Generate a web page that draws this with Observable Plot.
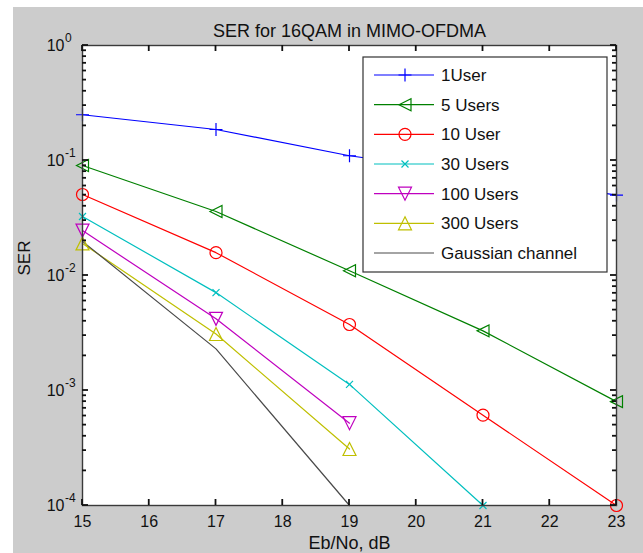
<!DOCTYPE html>
<html>
<head>
<meta charset="utf-8">
<script src="https://cdn.jsdelivr.net/npm/d3@7"></script>
<script src="https://cdn.jsdelivr.net/npm/@observablehq/plot@0.6"></script>
<style>
  html, body { margin: 0; padding: 0; background: #ffffff; }
  #wrap { position: relative; width: 643px; height: 553px; overflow: hidden; }
  #bg { position: absolute; left: 13px; top: 7px; right: 0; bottom: 0; background: #cccccc; }
  #chart { position: absolute; left: 0; top: 0; }
</style>
</head>
<body>
<div id="wrap"><div id="bg"></div><div id="chart"></div></div>
<script>
// ---- data ----
const snr = [15, 17, 19, 21, 23];
const user1    = [0.25, 0.186, 0.11, 0.076, 0.05];
const users5   = [0.0905, 0.036, 0.011, 0.0033, 0.0008];
const user10   = [0.0506, 0.0158, 0.00375, 0.00061, 0.0001];
const users30  = [0.0326, 0.0071, 0.00113, 0.0001];
const users100 = [0.0246, 0.0042, 0.00052];
const users300 = [0.019, 0.0031, 0.00031];
const gaussian = [0.0198, 0.0023, 0.0001];

const seriesNames = ["1User", "5 Users", "10 User", "30 Users", "100 Users", "300 Users", "Gaussian channel"];
const seriesValues = [user1, users5, user10, users30, users100, users300, gaussian];
const seriesColors = ["#0000ff", "#008000", "#ff0000", "#00bfbf", "#bf00bf", "#bfbf00", "#4a4a4a"];

const xTicks = [15, 16, 17, 18, 19, 20, 21, 22, 23];
const yExponents = [0, -1, -2, -3, -4];
const yTicks = yExponents.map(e => Math.pow(10, e));
const yMinor = [];
for (let e = -4; e < 0; e++) for (let m = 2; m <= 9; m++) yMinor.push(m * Math.pow(10, e));

const titleText = "SER for 16QAM in MIMO-OFDMA";
const xLabel = "Eb/No, dB";
const yLabel = "SER";

// ---- marker shapes (MATLAB style, outline only) ----
const sym = f => ({draw(ctx, size) { const r = Math.sqrt(size / Math.PI); f(ctx, r); }});
const symPlus = sym((c, r) => { c.moveTo(-r, 0); c.lineTo(r, 0); c.moveTo(0, -r); c.lineTo(0, r); });
const symTimes = sym((c, r) => { c.moveTo(-r, -r); c.lineTo(r, r); c.moveTo(-r, r); c.lineTo(r, -r); });
const symCircle = sym((c, r) => { c.moveTo(r, 0); c.arc(0, 0, r, 0, 2 * Math.PI); c.closePath(); });
const symTriLeft = sym((c, r) => { c.moveTo(-r, 0); c.lineTo(r, -r); c.lineTo(r, r); c.closePath(); });
const symTriDown = sym((c, r) => { c.moveTo(-r, -r); c.lineTo(r, -r); c.lineTo(0, r); c.closePath(); });
const symTriUp = sym((c, r) => { c.moveTo(0, -r); c.lineTo(r, r); c.lineTo(-r, r); c.closePath(); });
const seriesSymbols = [symPlus, symTriLeft, symCircle, symTimes, symTriDown, symTriUp, null];
const seriesR = [6.5, 6, 6, 3.5, 6.5, 6.5, 0];

const tables = seriesValues.map((vals, i) => vals.map((v, j) => ({x: snr[j], y: v, s: seriesNames[i]})));

const FONT = "'Liberation Sans', Arial, sans-serif";
const TICK = "#111111";
const TXT = "#111111";

const marks = [Plot.frame({fill: "white", stroke: null})];
tables.forEach((t, i) => {
  marks.push(Plot.line(t, {x: "x", y: "y", stroke: seriesColors[i], strokeWidth: 1.2}));
});
tables.forEach((t, i) => {
  if (seriesSymbols[i]) marks.push(Plot.dot(t, {x: "x", y: "y", stroke: seriesColors[i], fill: "none", strokeWidth: 1.2, symbol: seriesSymbols[i], r: seriesR[i]}));
});
marks.push(
  // x tick labels
  Plot.axisX(xTicks, {anchor: "bottom", tickSize: 0, tickPadding: 10, fontSize: 16, fill: TXT, tickFormat: d => String(d), label: null}),
  // y tick labels: "10" + superscript exponent
  Plot.text(yTicks, {y: d => d, frameAnchor: "left", dx: -18, textAnchor: "end", text: () => "10", fontSize: 16, fill: TXT}),
  Plot.text(yTicks, {y: d => d, frameAnchor: "left", dx: -17.5, dy: -7, textAnchor: "start", text: (d, i) => String(yExponents[i]), fontSize: 12, fill: TXT}),
  // title & axis labels
  Plot.text([titleText], {frameAnchor: "top", dy: -21, fontSize: 18, fill: TXT}),
  Plot.text([xLabel], {frameAnchor: "bottom", dy: 43, fontSize: 18, fill: TXT}),
  Plot.text([yLabel], {frameAnchor: "left", dx: -58, rotate: -90, fontSize: 17, fill: TXT}),
  Plot.frame({stroke: "#3a3a3a", strokeWidth: 1.4})
);

const chart = Plot.plot({
  width: 643,
  height: 553,
  marginLeft: 82,
  marginRight: 27,
  marginTop: 45,
  marginBottom: 48,
  style: {fontFamily: FONT, background: "transparent", overflow: "visible"},
  x: {domain: [15, 23], axis: null},
  y: {type: "log", domain: [1e-4, 1], axis: null},
  marks
});
document.getElementById("chart").appendChild(chart);

(function () {
  const svg = d3.select(chart);

  // ---- inward ticks, positioned through Plot's own scales ----
  const sx = chart.scale("x"), sy = chart.scale("y");
  const fl = Math.min(...sx.range), fr = Math.max(...sx.range);
  const fb = Math.max(...sy.range), ft = Math.min(...sy.range);
  const tg = svg.append("g").attr("stroke", TICK).attr("stroke-width", 1.8).attr("fill", "none");
  xTicks.forEach(v => {
    const px = sx.apply(v);
    tg.append("path").attr("d", `M${px},${fb}V${fb - 6}`);
    tg.append("path").attr("d", `M${px},${ft}V${ft + 6}`);
  });
  [...yTicks.map(v => [v, 6]), ...yMinor.map(v => [v, 4])].forEach(([v, len]) => {
    const py = sy.apply(v);
    tg.append("path").attr("d", `M${fl},${py}H${fl + len}`);
    tg.append("path").attr("d", `M${fr},${py}H${fr - len}`);
  });

  // ---- legend box ----
  const lg = svg.append("g").attr("font-family", FONT).attr("font-size", 17).attr("text-anchor", "start");
  lg.append("rect").attr("x", 363).attr("y", 57).attr("width", 244).attr("height", 215)
    .attr("fill", "white").attr("stroke", "#333").attr("stroke-width", 1.2);
  seriesNames.forEach((name, i) => {
    const y = 75 + i * 29.67;
    lg.append("line").attr("x1", 374).attr("x2", 434).attr("y1", y).attr("y2", y)
      .attr("stroke", seriesColors[i]).attr("stroke-width", 1.2);
    if (seriesSymbols[i]) {
      const p = d3.path();
      seriesSymbols[i].draw(p, seriesR[i] * seriesR[i] * Math.PI);
      lg.append("path").attr("d", p.toString()).attr("transform", `translate(405,${y})`)
        .attr("fill", "none").attr("stroke", seriesColors[i]).attr("stroke-width", 1.2);
    }
    lg.append("text").attr("x", 441).attr("y", y).attr("dy", "0.35em").attr("text-anchor", "start").attr("fill", TXT).text(name);
  });
})();
</script>
</body>
</html>
